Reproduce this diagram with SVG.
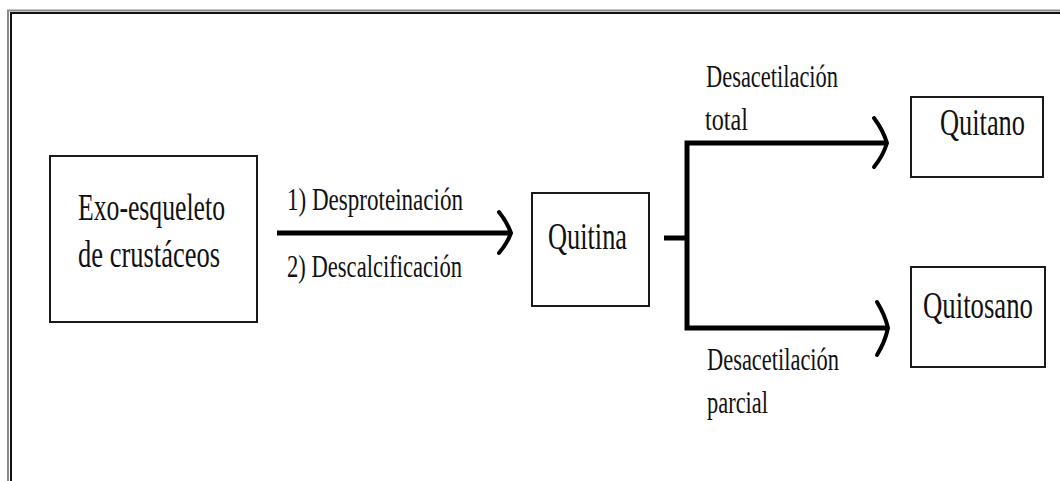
<svg xmlns="http://www.w3.org/2000/svg" width="1060" height="481" viewBox="0 0 1060 481">
  <style>
    .frame-outer { fill: none; stroke: #8a8a8a; stroke-width: 2; }
    .frame-inner { fill: none; stroke: #111; stroke-width: 2; }
    .box { fill: #fff; stroke: #1a1a1a; stroke-width: 2; }
    /* tall, narrow serif lettering: normal width, stretched vertically */
    .node-text { font-family: "Liberation Serif", "Times New Roman", serif; font-size: 26.5px; fill: #111; }
    .label { font-family: "Liberation Serif", "Times New Roman", serif; font-size: 23px; fill: #111; }
    .wire { fill: none; stroke: #000; stroke-width: 5; }
    .head { fill: none; stroke: #000; stroke-width: 4; stroke-linecap: round; stroke-linejoin: round; }
  </style>

  <rect width="1060" height="481" fill="#fff"/>

  <!-- page frame: double rule on the top and left edges -->
  <g id="frame">
    <path class="frame-outer" d="M8,481 V10.5 H1060"/>
    <path class="frame-inner" d="M11,481 V13 H1060"/>
  </g>

  <!-- connectors -->
  <g id="connectors">
    <line class="wire" x1="277" y1="233" x2="509" y2="233"/>
    <path class="head" d="M499,212 Q507,222 511,233 Q507,244 499,253"/>

    <line class="wire" x1="664" y1="238" x2="687" y2="238"/>
    <path class="wire" d="M887,143 H687 V328 H886" stroke-linejoin="miter"/>
    <path class="head" d="M874,118 Q883,130 887,143 Q883,156 874,167"/>
    <path class="head" d="M877,302 Q885,315 888,328 Q885,342 877,355"/>
  </g>

  <!-- connector labels -->
  <g id="labels">
    <text class="label" transform="translate(287,210) scale(1,1.35)" textLength="176" lengthAdjust="spacingAndGlyphs">1) Desproteinación</text>
    <text class="label" transform="translate(287,277) scale(1,1.35)" textLength="175" lengthAdjust="spacingAndGlyphs">2) Descalcificación</text>
    <text class="label" transform="translate(706,87) scale(1,1.35)" textLength="132" lengthAdjust="spacingAndGlyphs">Desacetilación</text>
    <text class="label" transform="translate(705,130) scale(1,1.35)" textLength="43" lengthAdjust="spacingAndGlyphs">total</text>
    <text class="label" transform="translate(707,370) scale(1,1.35)" textLength="132" lengthAdjust="spacingAndGlyphs">Desacetilación</text>
    <text class="label" transform="translate(707,413) scale(1,1.35)" textLength="61" lengthAdjust="spacingAndGlyphs">parcial</text>
  </g>

  <g id="exoesqueleto">
    <rect class="box" x="50" y="156" width="207" height="166"/>
    <text class="node-text" transform="translate(78,220) scale(1,1.43)" textLength="147" lengthAdjust="spacingAndGlyphs">Exo-esqueleto</text>
    <text class="node-text" transform="translate(78,267) scale(1,1.43)" textLength="142" lengthAdjust="spacingAndGlyphs">de crustáceos</text>
  </g>

  <g id="quitina">
    <rect class="box" x="532" y="193" width="117" height="113"/>
    <text class="node-text" transform="translate(548,249) scale(1,1.43)" textLength="79" lengthAdjust="spacingAndGlyphs">Quitina</text>
  </g>

  <g id="quitano">
    <rect class="box" x="911" y="97" width="132" height="80"/>
    <text class="node-text" transform="translate(940,135) scale(1,1.43)" textLength="85" lengthAdjust="spacingAndGlyphs">Quitano</text>
  </g>

  <g id="quitosano">
    <rect class="box" x="911" y="267" width="134" height="100"/>
    <text class="node-text" transform="translate(923,318) scale(1,1.43)" textLength="110" lengthAdjust="spacingAndGlyphs">Quitosano</text>
  </g>
</svg>
